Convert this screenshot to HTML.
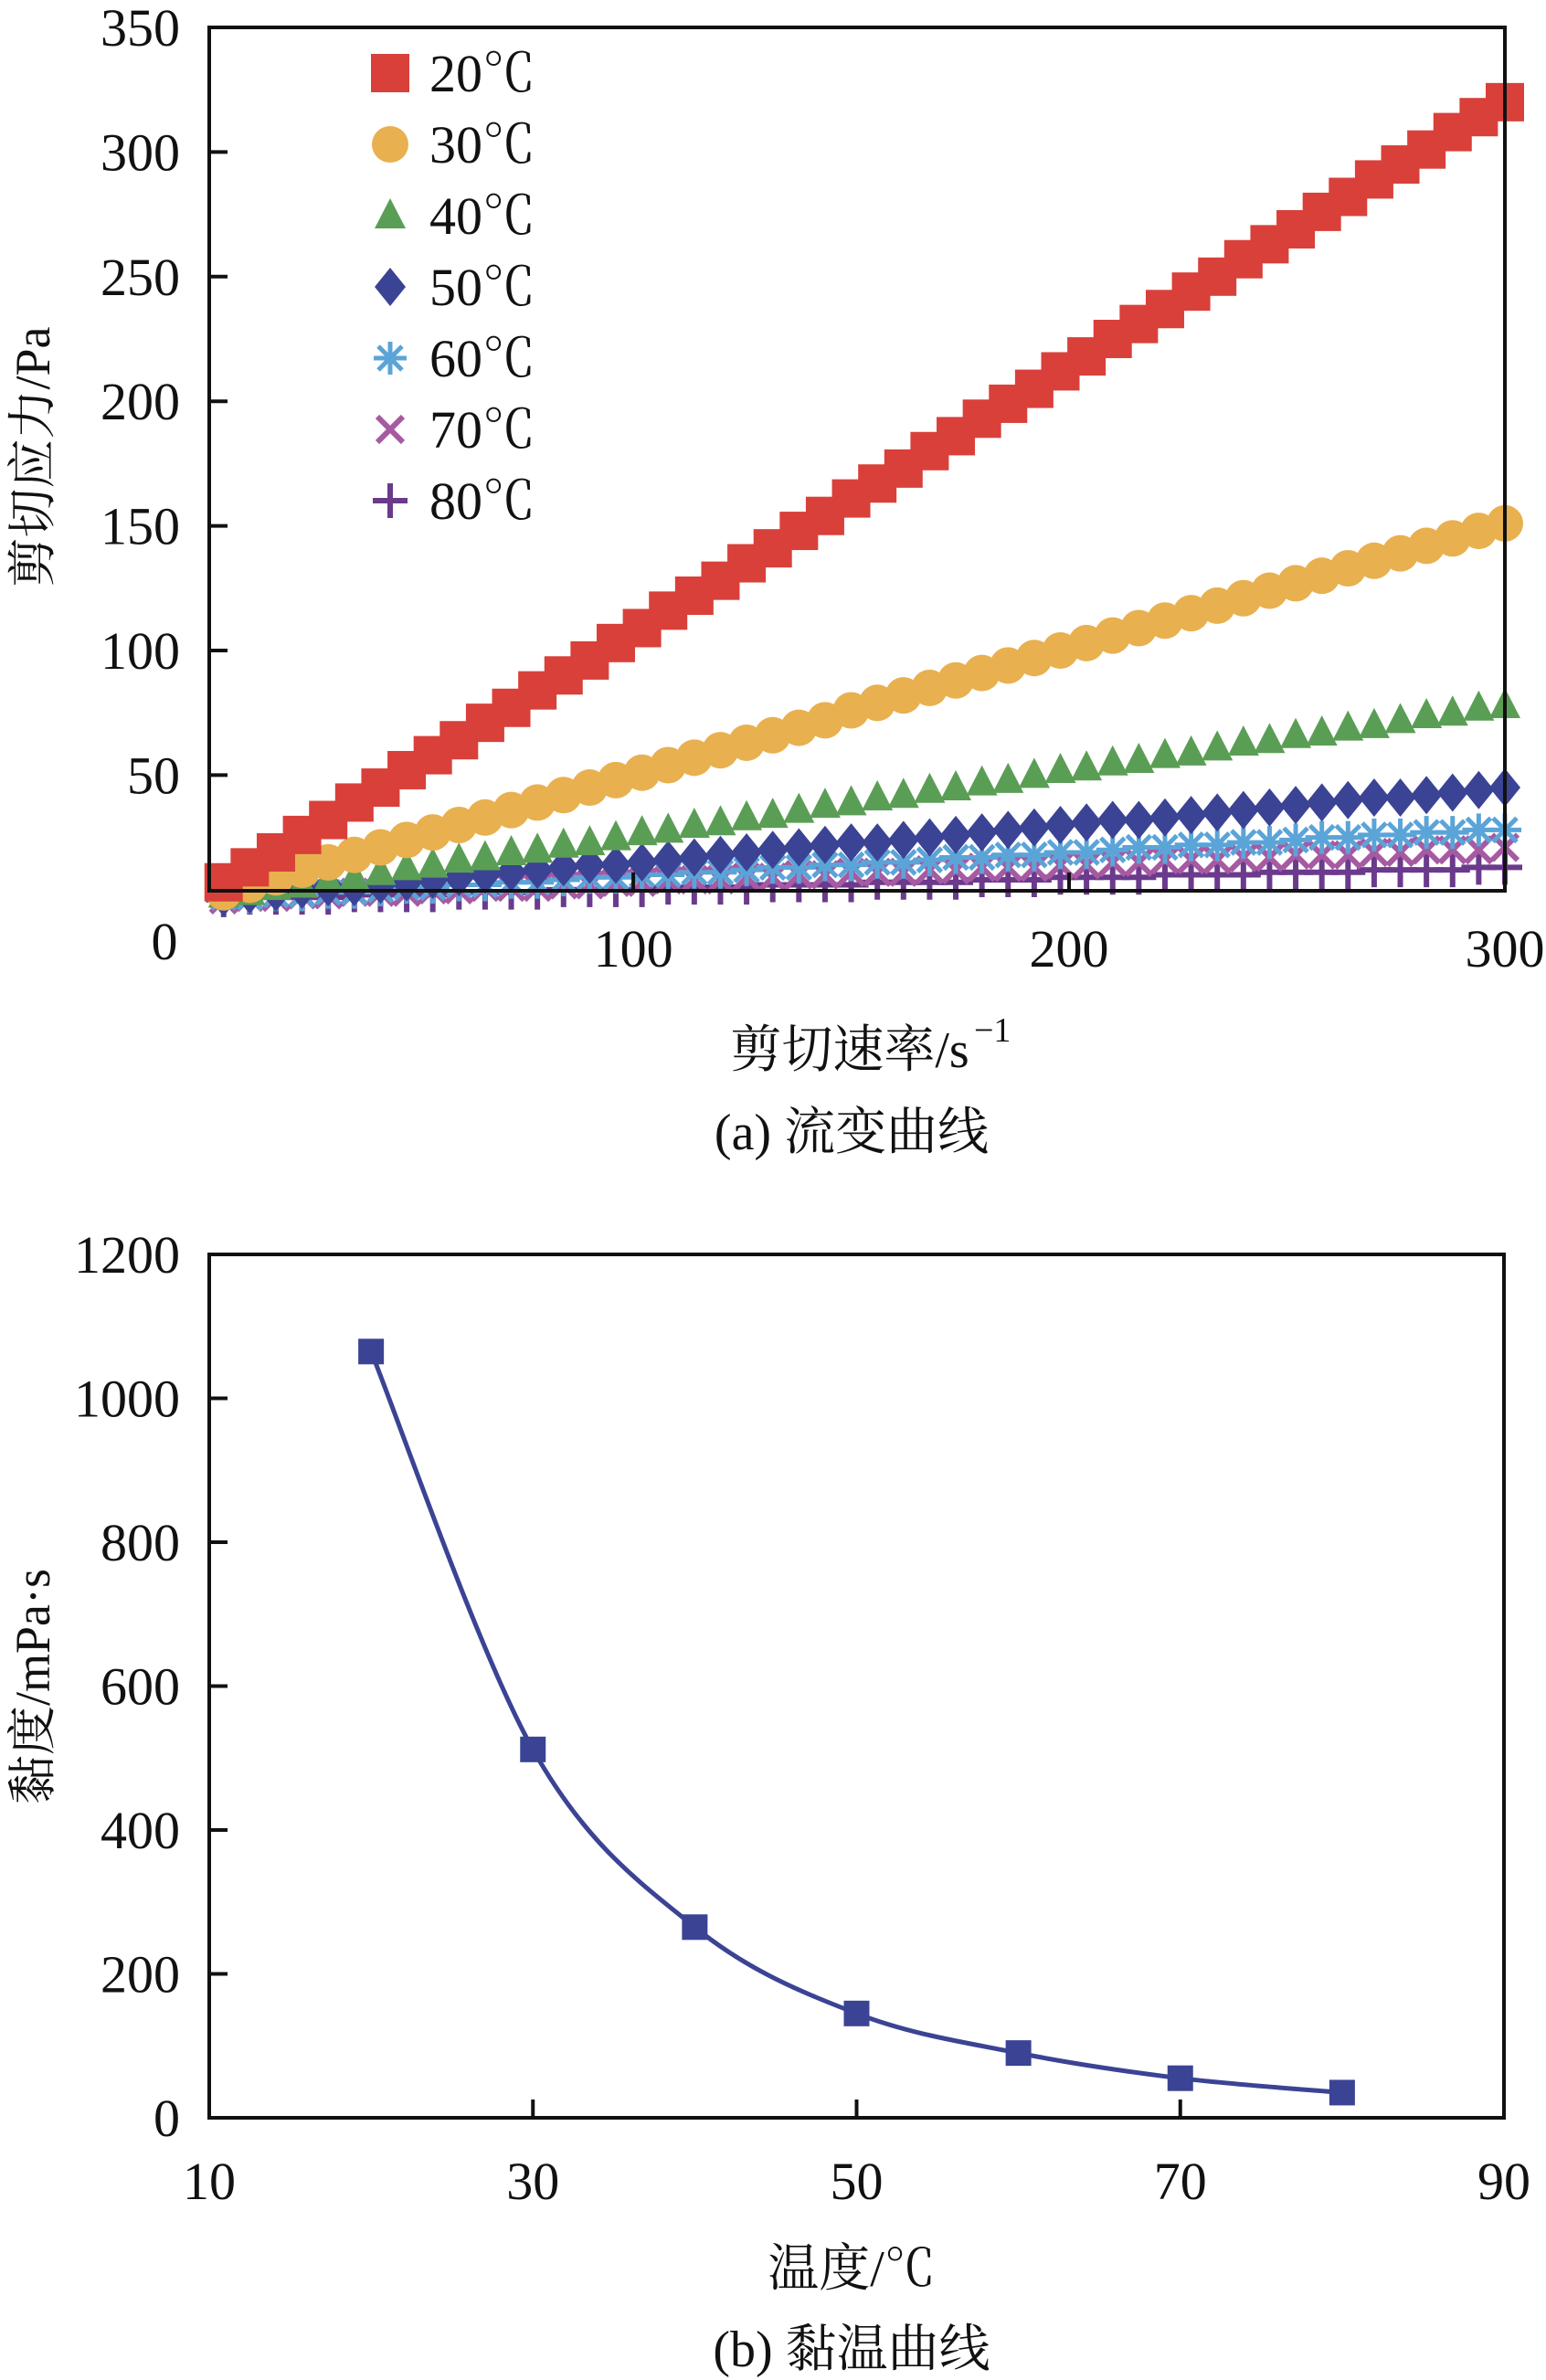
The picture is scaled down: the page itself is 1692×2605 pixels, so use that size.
<!DOCTYPE html>
<html><head><meta charset="utf-8"><style>
html,body{margin:0;padding:0;background:#fff}
svg{display:block}
text{font-family:"Liberation Serif","Noto Serif CJK SC","Noto Sans CJK SC",serif;fill:#111}
</style></head><body>
<svg id="svg" width="1692" height="2605" viewBox="0 0 1692 2605" xmlns="http://www.w3.org/2000/svg">
<g id="chartA"></g>
<g id="chartB"></g>
</svg>
<script>
const NS="http://www.w3.org/2000/svg";
// ---- Chart A data ----
const shearRates=[6,12,18,24,30,36,42,48,54,60,66,72,78,84,90,96,102,108,114,120,126,132,138,144,150,156,162,168,174,180,186,192,198,204,210,216,222,228,234,240,246,252,258,264,270,276,282,288,294,300];
const stress20=[7,13,19,26,32,39,45,52,58,64,71,77,84,90,96,103,109,116,122,128,135,141,148,154,161,167,173,180,186,193,199,205,212,218,225,231,237,244,250,257,263,269,276,282,289,295,301,308,314,320];
const stress30=[3,6,9,12,15,18,21,24,27,30,33,36,39,42,45,48,51,54,57,60,63,66,69,72,76,79,82,85,88,91,94,97,100,103,106,109,112,115,118,121,124,127,130,133,136,139,142,145,148,151];
const stress40=[2,3,5,6,8,9,11,13,14,16,17,19,20,22,23,25,27,28,30,31,33,34,36,38,39,41,42,44,45,47,48,50,52,53,55,56,58,59,61,63,64,66,67,69,70,72,74,75,77,78];
const stress50=[1,2,3,4,5,5,6,7,8,9,10,11,12,13,14,14,15,16,17,18,19,20,21,22,23,23,24,25,26,27,28,29,30,31,32,32,33,34,35,36,37,38,39,40,41,41,42,43,44,45];
const stress60=[1,1,2,2,3,3,4,5,5,6,6,7,7,8,9,9,10,10,11,11,12,13,13,14,14,15,15,16,17,17,18,18,19,19,20,21,21,22,22,23,23,24,25,25,26,26,27,27,28,28];
const stress70=[0,1,1,2,2,3,3,3,4,4,5,5,5,6,6,7,7,8,8,8,9,9,10,10,11,11,11,12,12,13,13,13,14,14,15,15,16,16,16,17,17,18,18,18,19,19,20,20,20,21];
const stress80=[0,1,1,1,1,2,2,2,2,3,3,3,3,4,4,4,4,5,5,5,5,6,6,6,6,7,7,7,7,8,8,8,9,9,9,9,10,10,10,10,11,11,11,11,12,12,12,12,13,13];
const seriesLabels=["20℃","30℃","40℃","50℃","60℃","70℃","80℃"];
const xTicksA=[100,200,300];
const yTicksA=[50,100,150,200,250,300,350];
// ---- Chart B data ----
const temps=[20,30,40,50,60,70,80];
const viscosity=[1065,512,265,145,90,55,35];
const xTicksB=[10,30,50,70,90];
const yTicksB=[0,200,400,600,800,1000,1200];

function el(parent,tag,attrs,text){const e=document.createElementNS(NS,tag);for(const k in attrs)e.setAttribute(k,attrs[k]);if(text!==undefined)e.textContent=text;parent.appendChild(e);return e;}
const FF='"Liberation Serif","Noto Serif CJK SC",serif';

// ===== Chart A =====
const A=document.getElementById('chartA');
const aL=229,aR=1647,aT=30,aB=975;
const ax=v=>aL+(v-2.7)/(300-2.7)*(aR-aL);
const ay=v=>aB-(v-3.6)/(350-3.6)*(aB-aT);
const colors=["#d9403a","#e8b04f","#5a9e55","#3b4394","#5ba4d8","#a65aa2","#6b3a8c"];
const allSeries=[stress20,stress30,stress40,stress50,stress60,stress70,stress80];
function marker(g,type,cx,cy,c){
  if(type===0) el(g,'rect',{x:cx-21,y:cy-21,width:42,height:42,fill:c});
  else if(type===1) el(g,'circle',{cx:cx,cy:cy,r:20,fill:c});
  else if(type===2) el(g,'polygon',{points:`${cx},${cy-19} ${cx+17},${cy+14} ${cx-17},${cy+14}`,fill:c});
  else if(type===3) el(g,'polygon',{points:`${cx},${cy-21} ${cx+17},${cy} ${cx},${cy+21} ${cx-17},${cy}`,fill:c});
  else if(type===4){el(g,'path',{d:`M${cx-18} ${cy}H${cx+18}M${cx} ${cy-18}V${cy+18}M${cx-13} ${cy-13}L${cx+13} ${cy+13}M${cx+13} ${cy-13}L${cx-13} ${cy+13}`,stroke:c,'stroke-width':5,fill:'none'});}
  else if(type===5){el(g,'path',{d:`M${cx-14} ${cy-14}L${cx+14} ${cy+14}M${cx+14} ${cy-14}L${cx-14} ${cy+14}`,stroke:c,'stroke-width':6,fill:'none'});}
  else {el(g,'path',{d:`M${cx-19} ${cy}H${cx+19}M${cx} ${cy-19}V${cy+19}`,stroke:c,'stroke-width':6,fill:'none'});}
}
for(let s=allSeries.length-1;s>=0;s--){
  const g=el(A,'g',{});
  
  
  allSeries[s].forEach((v,i)=>{marker(g,s,ax(shearRates[i]),ay(v),colors[s]);});
}
const fa=el(A,'rect',{x:aL,y:aT,width:aR-aL,height:aB-aT,fill:'none',stroke:'#111','stroke-width':4});


xTicksA.forEach(t=>{
  if(t<300) el(A,'line',{x1:ax(t),x2:ax(t),y1:aB,y2:aB-20,stroke:'#111','stroke-width':4});
  const tx=el(A,'text',{x:ax(t),y:1058,'text-anchor':'middle','font-size':58,'font-family':FF},t);
  
  
});
yTicksA.forEach(t=>{
  if(t<350) el(A,'line',{x1:aL,x2:aL+20,y1:ay(t),y2:ay(t),stroke:'#111','stroke-width':4});
  const tx=el(A,'text',{x:197,y:ay(t)+20,'text-anchor':'end','font-size':58,'font-family':FF},t);
  
  
});
const z=el(A,'text',{x:180,y:1050,'text-anchor':'middle','font-size':58,'font-family':FF},'0');


seriesLabels.forEach((lab,i)=>{
  const cy=80+i*78;
  const g=el(A,'g',{});
  
  
  marker(g,i,427,cy,colors[i]);
  el(g,'text',{x:470,y:cy+20,'font-size':58,'font-family':FF},lab);
});
const ya=el(A,'text',{x:0,y:0,'text-anchor':'middle','font-size':54,'font-family':FF,transform:'translate(54,500) rotate(-90)'},'剪切应力/Pa');


const xa=el(A,'text',{x:930,y:1168,'text-anchor':'middle','font-size':56,'font-family':FF},'剪切速率/s');


const sup=el(A,'text',{x:1066,y:1140,'font-size':38,'font-family':FF},'−1');


const ca=el(A,'text',{x:932,y:1258,'text-anchor':'middle','font-size':56,'font-family':FF},'(a) 流变曲线');



// ===== Chart B =====
const B=document.getElementById('chartB');
const bL=229,bR=1646,bT=1373,bB=2318;
const bx=v=>bL+(v-10)/80*(bR-bL);
const by=v=>bB-v/1200*(bB-bT);
const pts=temps.map((t,i)=>[bx(t),by(viscosity[i])]);
let d=`M${pts[0][0]},${pts[0][1]}`;
for(let i=0;i<pts.length-1;i++){
  const p0=pts[Math.max(0,i-1)],p1=pts[i],p2=pts[i+1],p3=pts[Math.min(pts.length-1,i+2)];
  const c1=[p1[0]+(p2[0]-p0[0])/6,p1[1]+(p2[1]-p0[1])/6];
  const c2=[p2[0]-(p3[0]-p1[0])/6,p2[1]-(p3[1]-p1[1])/6];
  d+=` C${c1[0]},${c1[1]} ${c2[0]},${c2[1]} ${p2[0]},${p2[1]}`;
}
const curve=el(B,'path',{d:d,fill:'none',stroke:'#3b4394','stroke-width':5});


pts.forEach(p=>{
  const r=el(B,'rect',{x:p[0]-14,y:p[1]-14,width:28,height:28,fill:'#3b4394'});
  
  
});
const fb=el(B,'rect',{x:bL,y:bT,width:bR-bL,height:bB-bT,fill:'none',stroke:'#111','stroke-width':4});


xTicksB.forEach(t=>{
  if(t>10&&t<90) el(B,'line',{x1:bx(t),x2:bx(t),y1:bB,y2:bB-20,stroke:'#111','stroke-width':4});
  const tx=el(B,'text',{x:bx(t),y:2407,'text-anchor':'middle','font-size':58,'font-family':FF},t);
  
  
});
yTicksB.forEach(t=>{
  if(t>0&&t<1200) el(B,'line',{x1:bL,x2:bL+20,y1:by(t),y2:by(t),stroke:'#111','stroke-width':4});
  const tx=el(B,'text',{x:197,y:by(t)+20,'text-anchor':'end','font-size':58,'font-family':FF},t);
  
  
});
const yb=el(B,'text',{x:0,y:0,'text-anchor':'middle','font-size':54,'font-family':FF,transform:'translate(54,1846) rotate(-90)'},'黏度/mPa·s');


const xb=el(B,'text',{x:932,y:2502,'text-anchor':'middle','font-size':56,'font-family':FF},'温度/℃');


const cb=el(B,'text',{x:932,y:2590,'text-anchor':'middle','font-size':56,'font-family':FF},'(b) 黏温曲线');


</script>
</body></html>
